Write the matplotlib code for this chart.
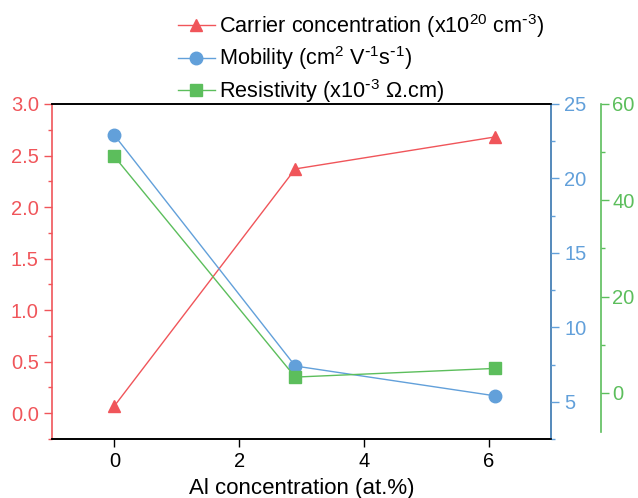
import matplotlib.pyplot as plt
from matplotlib.ticker import MultipleLocator
from matplotlib.lines import Line2D

plt.rcParams['font.family'] = ['Liberation Sans', 'DejaVu Sans']
plt.rcParams['mathtext.default'] = 'regular'

al_conc = [0, 2.9, 6.1]
carrier = [0.07, 2.37, 2.68]
mobility = [22.9, 7.4, 5.4]
resistivity = [49.1, 3.3, 5.1]

RED = '#F0555A'
BLUE = '#62A0DA'
GREEN = '#5CBE5C'
FS = 14.5
LFS = 15.6

fig = plt.figure(figsize=(6.38, 4.98), dpi=100)
ax = fig.add_axes([0.0815, 0.1185, 0.7821, 0.6727])
ax2 = ax.twinx()
ax3 = ax.twinx()

ax.plot(al_conc, carrier, color=RED, lw=1, marker='^', ms=9)
ax2.plot(al_conc, mobility, color=BLUE, lw=1, marker='o', ms=9)
ax3.plot(al_conc, resistivity, color=GREEN, lw=1, marker='s', ms=8)

ax.set_xlim(-1, 7)
ax.set_ylim(-0.25, 3.0)
ax2.set_ylim(2.5, 25)
ax3.set_ylim(-9.55, 60)

ax.xaxis.set_major_locator(MultipleLocator(2))
ax.yaxis.set_major_locator(MultipleLocator(0.5))
ax.yaxis.set_minor_locator(MultipleLocator(0.25))
ax2.yaxis.set_major_locator(MultipleLocator(5))
ax2.yaxis.set_minor_locator(MultipleLocator(2.5))
ax3.yaxis.set_major_locator(MultipleLocator(20))
ax3.yaxis.set_minor_locator(MultipleLocator(10))

ax.yaxis.set_major_formatter(lambda v, p: '%.1f' % v)
ax2.yaxis.set_major_formatter(lambda v, p: '%d' % v)
ax3.yaxis.set_major_formatter(lambda v, p: '%d' % v)

ax.set_xlabel('Al concentration (at.%)', fontsize=16, labelpad=5)
ax.tick_params(axis='x', labelsize=FS, length=6, width=1)
ax.tick_params(axis='y', which='major', colors=RED, labelsize=FS, length=6, width=1)
ax.tick_params(axis='y', which='minor', colors=RED, length=3, width=1)
ax2.tick_params(axis='y', which='major', colors=BLUE, labelsize=FS, length=6, width=1)
ax2.tick_params(axis='y', which='minor', colors=BLUE, length=3, width=1)
ax3.tick_params(axis='y', which='major', colors=GREEN, labelsize=FS, length=6, width=1,
                pad=2)
ax3.tick_params(axis='y', which='minor', colors=GREEN, length=3, width=1)

for a in (ax, ax2, ax3):
    for s in a.spines.values():
        s.set_linewidth(1.2)
ax.spines['left'].set_color(RED)
ax2.spines['left'].set_visible(False)
ax3.spines['left'].set_visible(False)
ax2.spines['right'].set_color(BLUE)
ax3.spines['right'].set_color(GREEN)
ax3.spines['right'].set_position(('outward', 36))
ax3.spines['right'].set_bounds(-8, 60)
ax3.spines['top'].set_visible(False)
ax3.spines['bottom'].set_visible(False)

handles = [
    Line2D([], [], color=RED, lw=1, marker='^', ms=9),
    Line2D([], [], color=BLUE, lw=1, marker='o', ms=9),
    Line2D([], [], color=GREEN, lw=1, marker='s', ms=8),
]
labels = [
    r'Carrier concentration (x10$^{20}$ cm$^{\text{-}3}$)',
    r'Mobility (cm$^{2}$ V$^{\text{-}1}$s$^{\text{-}1}$)',
    r'Resistivity (x10$^{\text{-}3}$ $\Omega$.cm)',
]
fig.legend(handles, labels, loc='upper left', bbox_to_anchor=(0.265, 0.993),
           frameon=False, fontsize=LFS, handlelength=1.7, handletextpad=0.2,
           labelspacing=0.2, borderaxespad=0)

fig.savefig('out.png', dpi=100)
